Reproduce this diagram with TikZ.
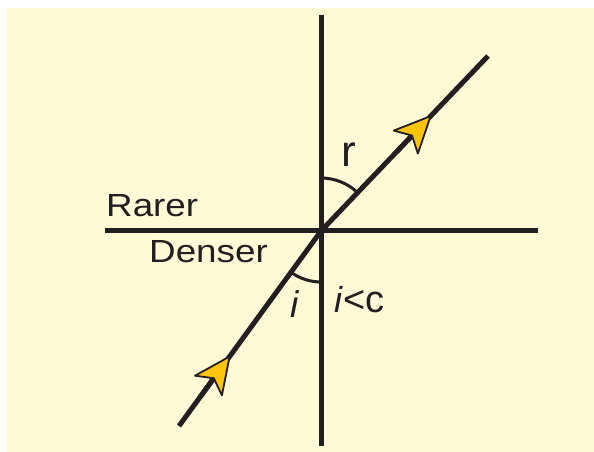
\documentclass[tikz,border=0pt]{standalone}
\usepackage{fontspec}
\setmainfont{Liberation Sans}
\newfontfamily\widefont{Liberation Sans}[FakeStretch=1.15]
\usetikzlibrary{arrows.meta,calc}
\definecolor{paper}{RGB}{255,250,214}
\definecolor{ink}{RGB}{35,31,32}
\definecolor{tipyellow}{RGB}{255,196,12}
\tikzset{
  axisline/.style={line width=5pt, ink},
  rayline/.style={line width=5pt, ink},
  anglearc/.style={line width=3pt, ink},
  raytip/.style={-{Stealth[length=40pt, width=37pt, inset=10pt, round, line width=1.8pt, fill=tipyellow]}, line width=5pt, ink},
  lbl/.style={inner sep=0pt, anchor=base west, text=ink}
}
\begin{document}
\begin{tikzpicture}[x=1pt, y=1pt]
    \useasboundingbox (0,0) rectangle (594,452);
    \fill[paper] (7,0) rectangle (594,444);

    % Punto de incidencia y extremos
    \coordinate (O) at (321,221);
    \coordinate (A) at (179,26);
    \coordinate (B) at (488,396);

    % Normal y superficie
    \draw[axisline] (321,6) -- (321,437);
    \draw[axisline] (105,221) -- (538,221);

    % Rayo refractado
    \draw[rayline] (A) -- (O) -- (B);

    % Puntas de flecha
    \draw[raytip] ($(A)!0.15!(O)$) -- ($(A)!0.36!(O)$);
    \draw[raytip] ($(O)!0.45!(B)$) -- ($(O)!0.66!(B)$);

    % Angulos
    \draw[anglearc] (O) ++(90:53) arc[start angle=90, end angle=46.3, radius=53];
    \draw[anglearc] (O) ++(270:51) arc[start angle=270, end angle=233.9, radius=51];

    % Etiquetas
    \node[lbl, font=\widefont\fontsize{32}{36}\selectfont] (rarer) at (106,235) {Rarer};
    \node[lbl, font=\widefont\fontsize{32}{36}\selectfont] (denser) at (149,189) {Denser};
    \node[lbl, font=\fontsize{44}{50}\selectfont] (r) at (341,285) {r};
    \node[lbl, font=\fontsize{37}{42}\selectfont] (i) at (290,134) {\textit{i}};
    \node[lbl, font=\fontsize{36}{40}\selectfont] (ic) at (334,139) {\textit{i}\fontsize{38}{42}\selectfont<c};
\end{tikzpicture}
\end{document}
